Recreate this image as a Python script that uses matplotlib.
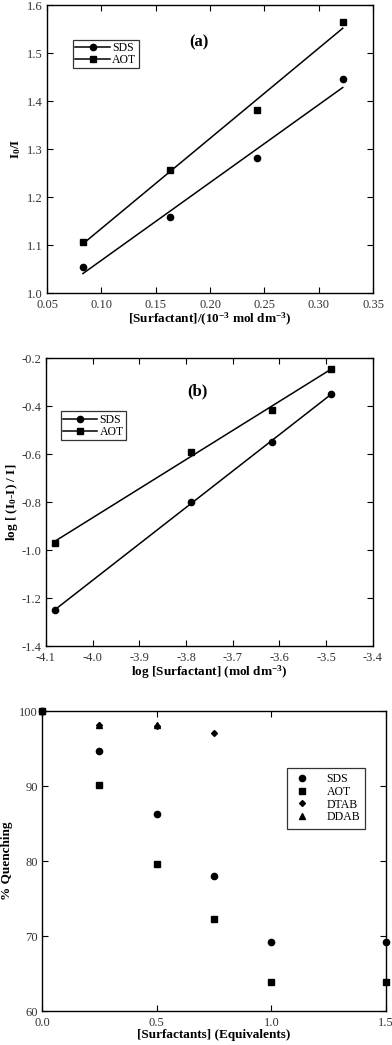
import matplotlib
matplotlib.use('Agg')
import matplotlib.pyplot as plt
import numpy as np

plt.rcParams['font.family'] = ['Liberation Serif', 'DejaVu Serif']
plt.rcParams['mathtext.fontset'] = 'custom'
plt.rcParams['mathtext.rm'] = 'Liberation Serif'
plt.rcParams['mathtext.bf'] = 'Liberation Serif:bold'
plt.rcParams['mathtext.default'] = 'bf'
plt.rcParams['axes.unicode_minus'] = False

# (a) Stern-Volmer
conc_a = [0.083, 0.163, 0.243, 0.322]
sds_a = [1.055, 1.158, 1.281, 1.445]
aot_a = [1.107, 1.257, 1.381, 1.565]

# (b) log plot
logc_b = [-4.08, -3.79, -3.615, -3.49]
sds_b = [-1.25, -0.80, -0.55, -0.35]
aot_b = [-0.97, -0.59, -0.415, -0.245]

# (c) % quenching vs equivalents
eq_sds = [0, 0.25, 0.5, 0.75, 1.0, 1.5]
q_sds = [100, 94.7, 86.3, 78.0, 69.2, 69.2]
eq_aot = [0, 0.25, 0.5, 0.75, 1.0, 1.5]
q_aot = [100, 90.2, 79.6, 72.3, 63.9, 63.9]
eq_dtab = [0, 0.25, 0.5, 0.75]
q_dtab = [100, 98.1, 98.0, 97.1]
eq_ddab = [0, 0.25, 0.5]
q_ddab = [100, 98.2, 98.1]

TICK_FS = 9
LABEL_FS = 9.5
LEG_FS = 8.5


def style_axes(ax):
    ax.tick_params(direction='in', top=True, right=True, length=4,
                   width=0.8, labelsize=TICK_FS, pad=3, labelcolor='#333333')
    ax.tick_params(axis='x', pad=4)
    for s in ax.spines.values():
        s.set_linewidth(1.0)


def fit_line(ax, x, y):
    k, b = np.polyfit(x, y, 1)
    xs = np.array([min(x), max(x)])
    ax.plot(xs, k * xs + b, color='black', lw=1.1)


def pair_legend(ax, anchor):
    hs = [plt.Line2D([], [], color='black', lw=1.1, marker=m, ms=4.5) for m in ('o', 's')]
    leg = ax.legend(hs, ['SDS', 'AOT'], loc='upper left', bbox_to_anchor=anchor,
                    fontsize=LEG_FS, frameon=True, fancybox=False, edgecolor='black',
                    handlelength=2.9, handletextpad=0.2, borderpad=0.2,
                    labelspacing=0.0, borderaxespad=0)
    leg.get_frame().set_linewidth(0.9)


fig = plt.figure(figsize=(3.92, 10.45), dpi=100)

# panel (a)
ax1 = fig.add_axes([0.120, 0.7196, 0.832, 0.2756])
ax1.plot(conc_a, sds_a, 'o', color='black', ms=4.5)
ax1.plot(conc_a, aot_a, 's', color='black', ms=4.5)
fit_line(ax1, conc_a, sds_a)
fit_line(ax1, conc_a, aot_a)
ax1.set_xlim(0.05, 0.35)
ax1.set_ylim(1.0, 1.6)
ax1.set_xticks(np.arange(0.05, 0.351, 0.05))
ax1.set_xticklabels([f'{v:.2f}' for v in np.arange(0.05, 0.351, 0.05)])
ax1.set_yticks(np.arange(1.0, 1.61, 0.1))
ax1.set_yticklabels([f'{v:.1f}' for v in np.arange(1.0, 1.61, 0.1)])
ax1.set_xlabel(r'[Surfactant]/(10$^{-3}$ mol dm$^{-3}$)', fontsize=LABEL_FS,
               fontweight='bold', labelpad=0)
ax1.set_ylabel(r'I$_0$/I', fontsize=LABEL_FS, fontweight='bold', labelpad=3)
ax1.text(0.465, 0.87, '(a)', transform=ax1.transAxes, fontsize=12,
         fontweight='bold', ha='center', va='center')
style_axes(ax1)
pair_legend(ax1, (0.08, 0.88))

# panel (b)
ax2 = fig.add_axes([0.117, 0.3818, 0.834, 0.2756])
ax2.plot(logc_b, sds_b, 'o', color='black', ms=4.5)
ax2.plot(logc_b, aot_b, 's', color='black', ms=4.5)
fit_line(ax2, logc_b, sds_b)
fit_line(ax2, logc_b, aot_b)
ax2.set_xlim(-4.1, -3.4)
ax2.set_ylim(-1.4, -0.2)
xt = np.arange(-4.1, -3.39, 0.1)
ax2.set_xticks(xt)
ax2.set_xticklabels([f'{v:.1f}' for v in xt])
yt = np.arange(-1.4, -0.19, 0.2)
ax2.set_yticks(yt)
ax2.set_yticklabels([f'{v:.1f}' for v in yt])
ax2.set_xlabel(r'log [Surfactant] (mol dm$^{-3}$)', fontsize=LABEL_FS,
               fontweight='bold', labelpad=0)
ax2.set_ylabel(r'log [ (I$_0$-I) / I]', fontsize=LABEL_FS, fontweight='bold', labelpad=1)
ax2.text(0.465, 0.885, '(b)', transform=ax2.transAxes, fontsize=12,
         fontweight='bold', ha='center', va='center')
style_axes(ax2)
pair_legend(ax2, (0.045, 0.815))

# panel (c)
ax3 = fig.add_axes([0.107, 0.0325, 0.878, 0.287])
ax3.plot(eq_sds, q_sds, 'o', color='black', ms=4.5, label='SDS', clip_on=False)
ax3.plot(eq_aot, q_aot, 's', color='black', ms=4.5, label='AOT', clip_on=False)
ax3.plot(eq_dtab, q_dtab, 'D', color='black', ms=3.0, label='DTAB', clip_on=False)
ax3.plot(eq_ddab, q_ddab, '^', color='black', ms=4, label='DDAB', clip_on=False)
ax3.set_xlim(0, 1.5)
ax3.set_ylim(60, 100)
ax3.set_xticks([0, 0.5, 1.0, 1.5])
ax3.set_xticklabels(['0.0', '0.5', '1.0', '1.5'])
ax3.set_yticks([60, 70, 80, 90, 100])
ax3.set_xlabel('[Surfactants] (Equivalents)', fontsize=LABEL_FS,
               fontweight='bold', labelpad=0)
ax3.set_ylabel('% Quenching', fontsize=LABEL_FS, fontweight='bold', labelpad=4)
style_axes(ax3)
leg3 = ax3.legend(loc='upper right', bbox_to_anchor=(0.94, 0.81),
                  fontsize=LEG_FS, frameon=True, fancybox=False, edgecolor='black',
                  handlelength=1.6, handletextpad=1.3, borderpad=0.45,
                  labelspacing=0.05, borderaxespad=0)
leg3.get_frame().set_linewidth(0.9)

fig.savefig('out.png', dpi=100)
